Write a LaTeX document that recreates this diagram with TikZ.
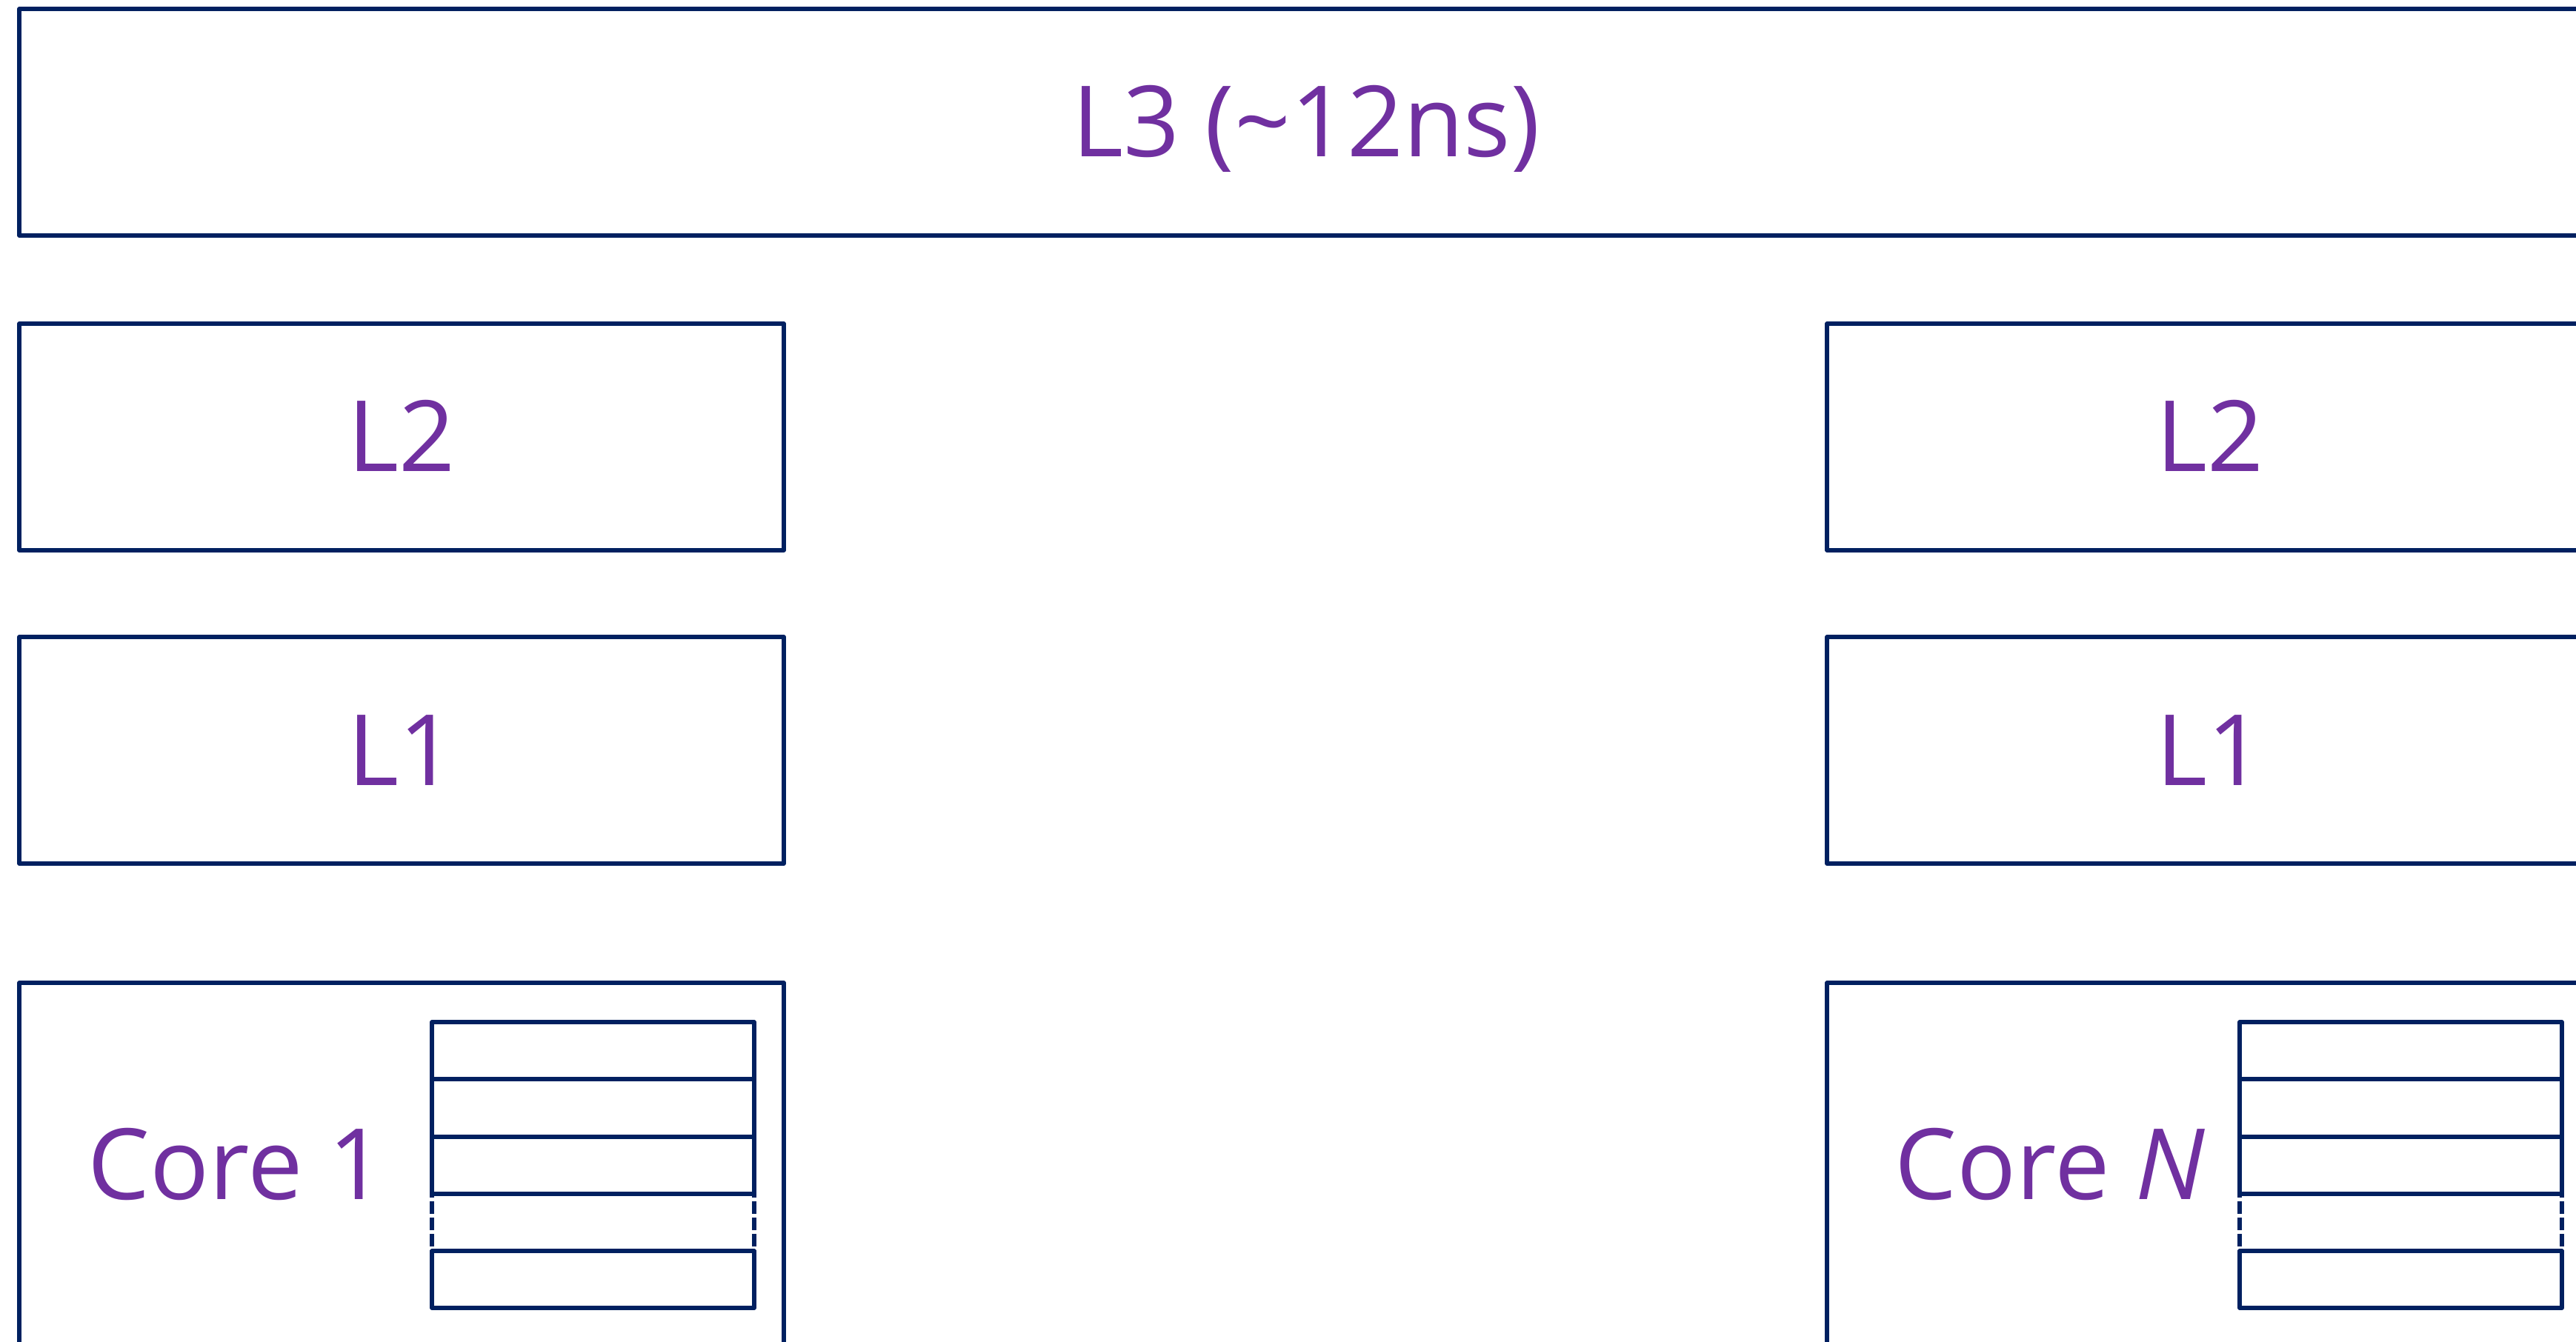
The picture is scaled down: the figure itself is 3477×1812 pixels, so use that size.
\documentclass[tikz,border=0pt]{standalone}
\usepackage{fontspec}
\setmainfont{Open Sans}
\definecolor{navy}{HTML}{002060}
\definecolor{purp}{HTML}{7030A0}
\begin{document}
\begin{tikzpicture}[x=0.01cm,y=-0.01cm,
  box/.style={draw=navy,line width=1.45pt,line join=round,line cap=round},
  dashside/.style={draw=navy,line width=1.45pt,dash pattern=on 0.17cm off 0.05cm,dash phase=-0.1cm},
  lbl/.style={text=purp,font=\fontsize{37.8}{45}\selectfont,inner sep=0pt}]
\useasboundingbox (0,0) rectangle (3477,1812);
\clip (0,0) rectangle (3477,1812);
% L3
\draw[box] (26,12) rectangle (3520,318);
\node[lbl,anchor=base] (l3) at (1763,211) {L3 (\textasciitilde12ns)};
% L2
\draw[box] (26,437) rectangle (1058,743);
\node[lbl,anchor=base] (l2a) at (542,636) {L2};
\draw[box] (2466,437) rectangle (3520,743);
\node[lbl,anchor=base] (l2b) at (2983,636) {L2};
% L1
\draw[box] (26,860) rectangle (1058,1166);
\node[lbl,anchor=base] (l1a) at (542,1060) {L1};
\draw[box] (2466,860) rectangle (3520,1166);
\node[lbl,anchor=base] (l1b) at (2983,1060) {L1};
% Cores
\draw[box] (26,1850) -- (26,1327) -- (1058,1327) -- (1058,1850);
\node[lbl,anchor=base west] (c1) at (118,1619) {Core 1};
\draw[box] (2466,1850) -- (2466,1327) -- (3520,1327);
\node[lbl,anchor=base west] (cn) at (2557,1619) {Core \textit{N}};
% register stacks
\foreach \xl/\xr in {583/1018, 3023/3458}{
  \draw[box] (\xl,1380) rectangle (\xr,1457);
  \draw[box] (\xl,1457) rectangle (\xr,1535);
  \draw[box] (\xl,1535) rectangle (\xr,1612);
  \draw[box] (\xl,1689) rectangle (\xr,1766);
  \draw[dashside] (\xl,1612) -- (\xl,1689);
  \draw[dashside] (\xr,1612) -- (\xr,1689);
}
\end{tikzpicture}
\end{document}
